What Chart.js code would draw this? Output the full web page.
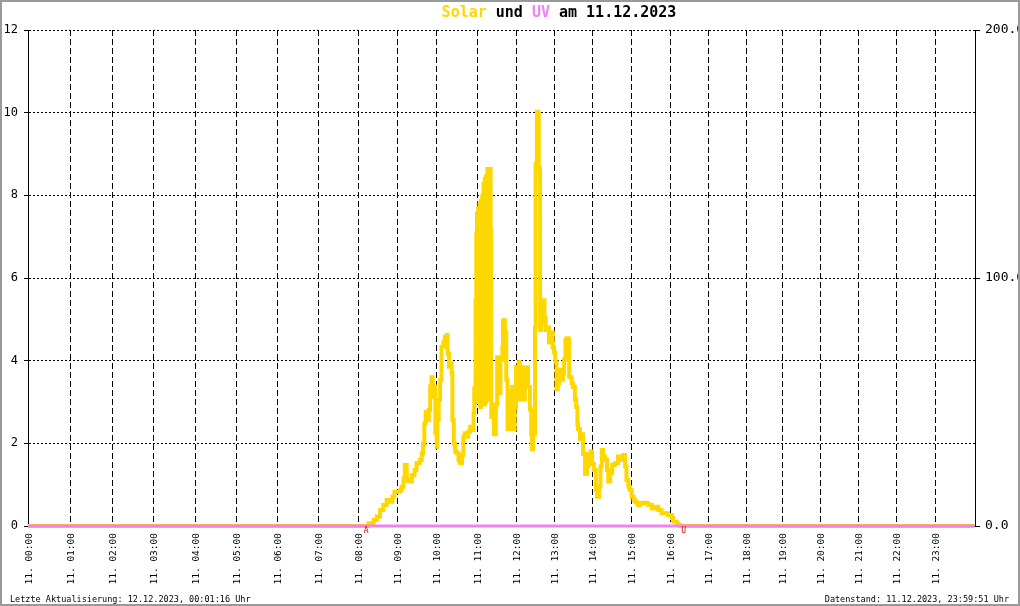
<!DOCTYPE html>
<html>
<head>
<meta charset="utf-8">
<script src="https://cdn.jsdelivr.net/npm/chart.js@4/dist/chart.umd.min.js"></script>
<style>
  html, body { margin: 0; padding: 0; background: #fff; }
  canvas { display: block; }
</style>
</head>
<body>
<canvas id="chart" width="1020" height="606"></canvas>
<script>
// Tick labels of the time axis
const dayLabel = '11.';
const hourLabels = ['00:00', '01:00', '02:00', '03:00', '04:00', '05:00', '06:00', '07:00',
    '08:00', '09:00', '10:00', '11:00', '12:00', '13:00', '14:00', '15:00',
    '16:00', '17:00', '18:00', '19:00', '20:00', '21:00', '22:00', '23:00'];
// the logger axis is sample based, so the hours are not equally wide
const samplesPerHour = [42, 42, 41, 42, 41, 41, 41, 40, 39, 39, 41, 39, 38, 38, 39, 39, 38, 38, 36, 38, 38, 38, 39, 40];

// Solar radiation (W/m², right axis)
const solarTimes = [
    '00:00', '08:12', '08:16', '08:24', '08:29', '08:34', '08:39', '08:44', '08:49', '08:53', '08:56', '08:59',
    '09:05', '09:07', '09:10', '09:12', '09:15', '09:18', '09:23', '09:27', '09:30', '09:35', '09:38', '09:40',
    '09:42', '09:44', '09:47', '09:49', '09:51', '09:53', '09:55', '09:57', '09:59',
    '10:01', '10:02', '10:04', '10:06', '10:08', '10:11', '10:13', '10:16', '10:17', '10:19', '10:21', '10:23',
    '10:24', '10:26', '10:28', '10:30', '10:33', '10:35', '10:38', '10:40', '10:42', '10:45', '10:47', '10:50',
    '10:52', '10:55', '10:56', '10:57', '10:58', '10:59',
    '11:00', '11:01', '11:02', '11:03', '11:04', '11:05', '11:06', '11:07', '11:08', '11:09', '11:10', '11:11',
    '11:12', '11:13', '11:14', '11:15', '11:16', '11:17', '11:18', '11:19', '11:20', '11:21',
    '11:22', '11:24', '11:26', '11:29', '11:31', '11:34', '11:36', '11:39', '11:40', '11:43', '11:45', '11:47',
    '11:50', '11:52', '11:54', '11:56', '11:58',
    '12:00', '12:02', '12:04', '12:06', '12:09', '12:12', '12:14', '12:17', '12:19', '12:22', '12:24', '12:25',
    '12:27', '12:30', '12:31', '12:33', '12:35', '12:36', '12:38', '12:40', '12:42', '12:43', '12:45', '12:47',
    '12:49', '12:52', '12:54', '12:56', '12:58',
    '13:00', '13:02', '13:04', '13:06', '13:08', '13:10', '13:12', '13:14', '13:16', '13:18', '13:20', '13:23',
    '13:24', '13:26', '13:28', '13:30', '13:33', '13:35', '13:37', '13:38', '13:41', '13:44', '13:46', '13:49',
    '13:52', '13:54', '13:58',
    '14:00', '14:03', '14:06', '14:08', '14:11', '14:13', '14:15', '14:17', '14:20', '14:23', '14:25', '14:28',
    '14:31', '14:35', '14:40', '14:43', '14:46', '14:48', '14:51', '14:53', '14:56', '14:58',
    '15:01', '15:04', '15:06', '15:09', '15:11', '15:14', '15:19', '15:24', '15:27', '15:32', '15:37', '15:42',
    '15:47', '15:52', '15:57',
    '16:03', '16:05', '16:11', '16:13', '16:16', '23:59'
];
const solarValues = [
    0, 0, 1.1, 2.4, 3.8, 6.5, 8.5, 10.5, 9.8, 11.8, 13.8, 13.8,
    14.5, 15.8, 19.2, 24.6, 18.5, 17.9, 20.6, 22.6, 25.3, 26.6, 29.3, 33.3,
    41.4, 46.1, 42.7, 46.8, 56.2, 60.0, 52.1, 56.2, 37.4,
    32.0, 42.7, 50.8, 58.9, 72.3, 74.3, 76.3, 77.0, 69.6, 64.2, 65.6, 61.6,
    42.7, 33.3, 30.0, 29.3, 26.6, 25.3, 28.6, 36.0, 37.4, 36.0, 38.0, 40.0,
    38.7, 45.4, 55.5, 52, 91, 118,
    126, 50, 128, 60, 130, 48, 131, 55, 133, 50, 138, 49,
    140, 50, 141, 52, 144, 51, 144, 60, 144, 119,
    44, 49, 37, 49, 68, 53.5, 67, 72, 83, 78, 59, 39,
    53.5, 39, 56, 39, 48,
    64, 52, 66, 51, 64, 51, 64, 64, 56, 47, 37, 31,
    37, 80, 146, 167, 166, 144, 79, 91, 82, 91, 84, 79,
    80, 74, 78, 78, 72,
    70, 66, 55, 57.5, 61.6, 63, 59, 61.6, 67, 75, 75.7, 75,
    60, 60, 57.5, 56, 51, 48, 41, 39, 35, 37, 29, 21,
    24, 29, 30,
    25, 22.6, 14.5, 11.8, 15.8, 24, 30.6, 28, 26.6, 22.6, 17.9, 21.2,
    24.6, 25.3, 28, 26.6, 27.3, 28.6, 24, 18.5, 15.8, 14.5,
    11.8, 10.5, 9.8, 9.2, 8.5, 9.2, 9.4, 9.2, 8.5, 7.1, 7.8, 6.5,
    5.1, 5.1, 4.4,
    3.1, 1.7, 0.8, 0.4, 0, 0
];

// UV index (left axis)
const uvTimes = ['00:00', '23:59'];
const uvValues = [0, 0];

// sunrise (A) and sunset (U)
const sunTimes = ['08:11', '16:20'];
const sunMarks = ['A', 'U'];

const hourStart = [];
let totalSamples = 0;
samplesPerHour.forEach((n, i) => { hourStart[i] = totalSamples; totalSamples += n; });

function toIndex(t) {
    const [h, m] = t.split(':').map(Number);
    return hourStart[h] + m / 60 * samplesPerHour[h];
}

const mono = '"DejaVu Sans Mono", "Liberation Mono", monospace';

const decorPlugin = {
    id: 'decor',
    afterDraw(chart) {
        const ctx = chart.ctx;
        const xScale = chart.scales.x;
        ctx.save();
        // title in several colours
        const parts = [['Solar', '#ffd700'], [' und ', '#000'], ['UV', '#ee82ee'], [' am 11.12.2023', '#000']];
        ctx.font = 'bold 15px ' + mono;
        ctx.textBaseline = 'middle';
        ctx.textAlign = 'left';
        const total = parts.reduce((w, p) => w + ctx.measureText(p[0]).width, 0);
        let x = 559 - total / 2;
        parts.forEach(p => {
            ctx.fillStyle = p[1];
            ctx.fillText(p[0], x, 13);
            x += ctx.measureText(p[0]).width;
        });
        // sunrise / sunset marks
        ctx.font = '8px ' + mono;
        ctx.fillStyle = '#e00000';
        ctx.textAlign = 'center';
        sunTimes.forEach((t, i) => {
            ctx.fillText(sunMarks[i], xScale.getPixelForValue(toIndex(t)) + 1, 531);
        });
        // footer
        ctx.font = '8.5px ' + mono;
        ctx.fillStyle = '#000';
        ctx.textBaseline = 'alphabetic';
        ctx.textAlign = 'left';
        ctx.fillText('Letzte Aktualisierung: 12.12.2023, 00:01:16 Uhr', 10, 602);
        ctx.textAlign = 'right';
        ctx.fillText('Datenstand: 11.12.2023, 23:59:51 Uhr', 1009, 602);
        // frame
        ctx.strokeStyle = '#999';
        ctx.lineWidth = 2;
        ctx.strokeRect(1, 1, 1018, 604);
        ctx.restore();
    }
};

const config = {
    type: 'line',
    data: {
        datasets: [{
            label: 'UV',
            data: uvTimes.map((t, i) => ({ x: toIndex(t), y: uvValues[i] })),
            borderColor: '#ee82ee',
            borderWidth: 3,
            pointRadius: 0,
            clip: false,
            order: 0,
            yAxisID: 'y'
        }, {
            label: 'Solar',
            data: solarTimes.map((t, i) => ({ x: toIndex(t), y: solarValues[i] })),
            borderColor: '#ffd700',
            borderWidth: 4,
            borderJoinStyle: 'miter',
            stepped: true,
            pointRadius: 0,
            clip: false,
            order: 1,
            yAxisID: 'y2'
        }]
    },
    options: {
        responsive: false,
        animation: false,
        layout: { padding: { top: 30, left: 0, right: 0, bottom: 0 } },
        plugins: {
            legend: { display: false },
            title: { display: false },
            tooltip: { enabled: false }
        },
        scales: {
            x: {
                type: 'linear',
                min: 0,
                max: totalSamples,
                afterBuildTicks: (scale) => {
                    scale.ticks = hourStart.map(v => ({ value: v }));
                },
                afterFit: (scale) => { scale.height = 80; },
                grid: { color: '#000', lineWidth: 1, drawTicks: false },
                border: { display: false, dash: [6, 3] },
                ticks: {
                    autoSkip: false,
                    maxRotation: 90,
                    minRotation: 90,
                    padding: 7,
                    labelOffset: 2,
                    color: '#000',
                    font: { family: mono, size: 9.5 },
                    callback: (value, index) => dayLabel + ' ' + hourLabels[index]
                }
            },
            y: {
                position: 'left',
                min: 0,
                max: 12,
                afterFit: (scale) => { scale.width = 28; },
                grid: { color: '#000', lineWidth: 1, tickLength: 4, tickColor: '#000' },
                border: { display: true, color: '#000', width: 1, dash: [2, 2] },
                ticks: {
                    stepSize: 2,
                    padding: 6,
                    color: '#000',
                    font: { family: mono, size: 12 }
                }
            },
            y2: {
                position: 'right',
                min: 0,
                max: 200,
                afterFit: (scale) => { scale.width = 45; },
                grid: { drawOnChartArea: false, color: '#000', tickLength: 5, tickColor: '#000' },
                border: { display: true, color: '#000', width: 1 },
                ticks: {
                    stepSize: 100,
                    padding: 5,
                    color: '#000',
                    font: { family: mono, size: 13 },
                    callback: (value) => value.toFixed(1)
                }
            }
        }
    },
    plugins: [decorPlugin]
};

const myChart = new Chart(document.getElementById('chart'), config);
</script>
</body>
</html>
